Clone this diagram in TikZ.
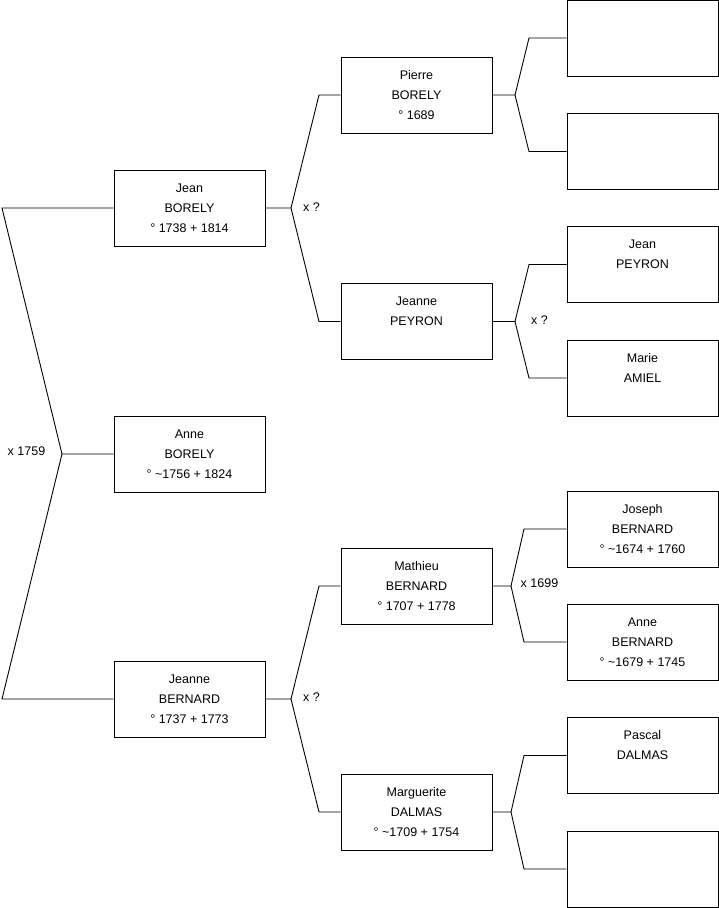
\documentclass[tikz,border=0pt]{standalone}
\usepackage{fontspec}
\setmainfont{Liberation Sans}
\newcommand{\pl}[3]{\strut#1\\#2\\#3\strut}
\begin{document}
\begin{tikzpicture}[x=1pt,y=-1pt,
  person/.style={draw=black,line width=0.9pt,minimum width=151pt,minimum height=76pt,inner sep=0pt,align=center,font=\fontsize{12.5}{20}\selectfont},
  link/.style={draw=black,line width=0.9pt},
  lbl/.style={inner sep=0pt,font=\fontsize{12.5}{15}\selectfont}]
\useasboundingbox (0,0) rectangle (719,908);
% generation 1
\node[person] (jean) at (189.5,208) {\pl{Jean}{BORELY}{° 1738 + 1814}};
\node[person] (anne) at (189.5,454) {\pl{Anne}{BORELY}{° \textasciitilde1756 + 1824}};
\node[person] (jeanneb) at (189.5,699) {\pl{Jeanne}{BERNARD}{° 1737 + 1773}};
% generation 2
\node[person] (pierre) at (416.5,95) {\pl{Pierre}{BORELY}{° 1689}};
\node[person] (jeannep) at (416.5,321.5) {\pl{Jeanne}{PEYRON}{}};
\node[person] (mathieu) at (416.5,586) {\pl{Mathieu}{BERNARD}{° 1707 + 1778}};
\node[person] (marg) at (416.5,812) {\pl{Marguerite}{DALMAS}{° \textasciitilde1709 + 1754}};
% generation 3
\node[person] (r1) at (642.5,38) {};
\node[person] (r2) at (642.5,151.5) {};
\node[person] (r3) at (642.5,264.5) {\pl{Jean}{PEYRON}{}};
\node[person] (r4) at (642.5,378) {\pl{Marie}{AMIEL}{}};
\node[person] (r5) at (642.5,529) {\pl{Joseph}{BERNARD}{° \textasciitilde1674 + 1760}};
\node[person] (r6) at (642.5,642) {\pl{Anne}{BERNARD}{° \textasciitilde1679 + 1745}};
\node[person] (r7) at (642.5,755.5) {\pl{Pascal}{DALMAS}{}};
\node[person] (r8) at (642.5,869) {};
% fork coordinates
\coordinate (j0) at (62,454);
\coordinate (t0) at (2,208);
\coordinate (b0) at (2,699);
\coordinate (j1) at (291,208);
\coordinate (t1) at (319,95);
\coordinate (b1) at (319,321.5);
\coordinate (j2) at (291,699);
\coordinate (t2) at (319,586);
\coordinate (b2) at (319,812);
\coordinate (j3) at (515,95);
\coordinate (t3) at (529,38);
\coordinate (b3) at (529,151.5);
\coordinate (j4) at (515,321.5);
\coordinate (t4) at (529,264.5);
\coordinate (b4) at (529,378);
\coordinate (j5) at (511,586);
\coordinate (t5) at (524,529);
\coordinate (b5) at (524,642);
\coordinate (j6) at (511,812);
\coordinate (t6) at (524,755.5);
\coordinate (b6) at (524,869);
% connectors
\draw[link] (anne.west) -- (j0) -- (t0) -- (jean.west);
\draw[link] (j0) -- (b0) -- (jeanneb.west);
\draw[link] (jean.east) -- (j1) -- (t1) -- (pierre.west);
\draw[link] (j1) -- (b1) -- (jeannep.west);
\draw[link] (jeanneb.east) -- (j2) -- (t2) -- (mathieu.west);
\draw[link] (j2) -- (b2) -- (marg.west);
\draw[link] (pierre.east) -- (j3) -- (t3) -- (r1.west);
\draw[link] (j3) -- (b3) -- (r2.west);
\draw[link] (jeannep.east) -- (j4) -- (t4) -- (r3.west);
\draw[link] (j4) -- (b4) -- (r4.west);
\draw[link] (mathieu.east) -- (j5) -- (t5) -- (r5.west);
\draw[link] (j5) -- (b5) -- (r6.west);
\draw[link] (marg.east) -- (j6) -- (t6) -- (r7.west);
\draw[link] (j6) -- (b6) -- (r8.west);
% labels
\node[lbl] (l0) at (26.5,451) {x 1759};
\node[lbl] (l1) at (311.5,207) {x ?};
\node[lbl] (l2) at (311.5,697) {x ?};
\node[lbl] (l4) at (539.5,320) {x ?};
\node[lbl] (l5) at (539.5,583) {x 1699};
\end{tikzpicture}
\end{document}
